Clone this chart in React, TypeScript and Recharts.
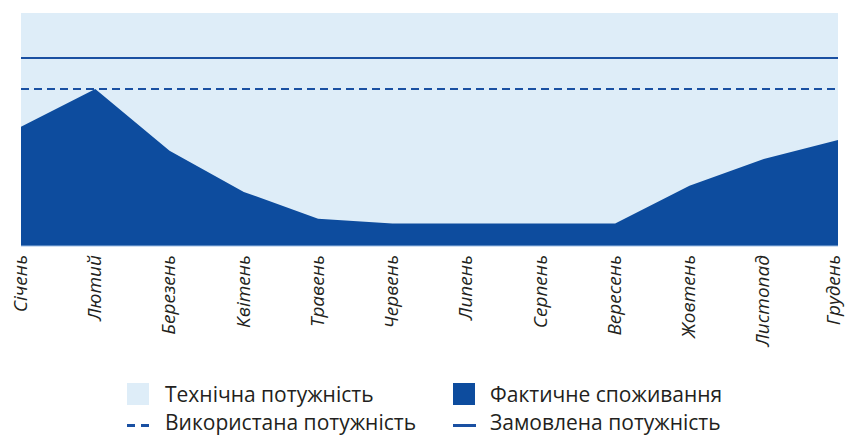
import { Area, ComposedChart, Line, XAxis, YAxis } from "recharts";

const months = [
  "Січень", "Лютий", "Березень", "Квітень", "Травень", "Червень",
  "Липень", "Серпень", "Вересень", "Жовтень", "Листопад", "Грудень",
];
const actual = [51.2, 67.4, 40.9, 23.2, 11.7, 9.7, 9.7, 9.7, 9.7, 25.9, 37.3, 45.5];
const technical = 100;
const ordered = 80.7;
const used = 67.4;

const LIGHT = "#deedf8";
const DARK = "#0d4c9e";
const LINE = "#1a50a2";
const FONT = "'Open Sans', 'Noto Sans', sans-serif";

const data = months.map((m, i) => ({
  month: m,
  technical,
  actual: actual[i],
  ordered,
  used,
}));

function MonthTick(props: any) {
  const { y, payload } = props;
  // last label sits at the right edge, pull it in a little so it is not clipped
  const x = props.x > 830 ? props.x - 4 : props.x;
  return (
    <text
      x={x}
      y={y}
      transform={`rotate(-90, ${x}, ${y})`}
      textAnchor="end"
      dy="0.3em"
      fontSize={19}
      fontStyle="italic"
      fontFamily={FONT}
      fill="#231f20"
    >
      {payload.value}
    </text>
  );
}

const legendText = { fontSize: 21, fontFamily: FONT, color: "#231f20", lineHeight: "22px", whiteSpace: "nowrap" as const };

function LegendBlock() {
  return (
    <div style={{ position: "absolute", left: 0, top: 0, width: 847, height: 435, pointerEvents: "none" }}>
      <div style={{ position: "absolute", left: 127, top: 383, width: 22, height: 22, background: LIGHT }} />
      <div style={{ position: "absolute", left: 165, top: 383, ...legendText }}>Технічна потужність</div>
      <div style={{ position: "absolute", left: 453, top: 383, width: 22, height: 22, background: DARK }} />
      <div style={{ position: "absolute", left: 490, top: 383, ...legendText }}>Фактичне споживання</div>

      <div style={{ position: "absolute", left: 127, top: 424, width: 8, height: 2.5, background: LINE }} />
      <div style={{ position: "absolute", left: 141, top: 424, width: 8, height: 2.5, background: LINE }} />
      <div style={{ position: "absolute", left: 165, top: 411, ...legendText }}>Використана потужність</div>
      <div style={{ position: "absolute", left: 453, top: 424, width: 23, height: 2.5, background: LINE }} />
      <div style={{ position: "absolute", left: 490, top: 411, ...legendText }}>Замовлена потужність</div>
    </div>
  );
}

export default function App() {
  return (
    <div style={{ position: "absolute", left: 0, top: 0, width: 847, height: 435, background: "#fff" }}>
      <ComposedChart
        width={847}
        height={435}
        data={data}
        margin={{ top: 13, right: 9, left: 21, bottom: 0 }}
      >
        <XAxis
          dataKey="month"
          scale="point"
          height={189}
          interval={0}
          tickSize={0}
          tickMargin={9}
          tickLine={false}
          axisLine={{ stroke: "#9dbde3", strokeWidth: 1 }}
          tick={<MonthTick />}
        />
        <YAxis hide domain={[0, 100]} />
        <Area
          type="linear"
          dataKey="technical"
          fill={LIGHT}
          fillOpacity={1}
          stroke="none"
          isAnimationActive={false}
        />
        <Area
          type="linear"
          dataKey="actual"
          fill={DARK}
          fillOpacity={1}
          stroke="none"
          isAnimationActive={false}
        />
        <Line
          type="linear"
          dataKey="ordered"
          stroke={LINE}
          strokeWidth={2}
          dot={false}
          isAnimationActive={false}
        />
        <Line
          type="linear"
          dataKey="used"
          stroke={LINE}
          strokeWidth={2}
          strokeDasharray="8 5"
          dot={false}
          isAnimationActive={false}
        />
      </ComposedChart>
      <LegendBlock />
    </div>
  );
}
